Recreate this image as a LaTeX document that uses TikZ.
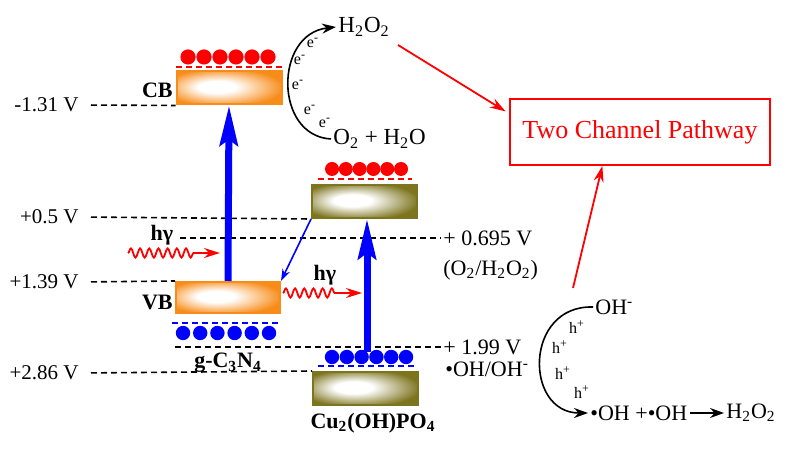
\documentclass[tikz,border=0pt]{standalone}
\usepackage{fontspec}
\setmainfont{Liberation Serif}
\usetikzlibrary{arrows.meta,decorations.pathmorphing,calc}

\definecolor{bandorange}{RGB}{247,140,25}
\definecolor{bandolive}{RGB}{125,116,30}

\pgfdeclareradialshading{gshade}{\pgfpoint{-7bp}{2bp}}{%
  color(0bp)=(white); color(9bp)=(white); color(29bp)=(bandorange); color(50bp)=(bandorange)}
\pgfdeclareradialshading{cshade}{\pgfpoint{-7bp}{2bp}}{%
  color(0bp)=(white); color(9bp)=(white); color(29bp)=(bandolive); color(50bp)=(bandolive)}

\begin{document}
\begin{tikzpicture}[x=0.5pt,y=-0.5pt,
    lbl/.style={font=\fontsize{10.5}{12}\selectfont, inner sep=1pt},
    boldlbl/.style={font=\fontsize{11}{13}\selectfont\bfseries, inner sep=1pt},
    tiny/.style={font=\fontsize{8}{9}\selectfont, inner sep=0pt},
    band/.style={minimum width=52.5pt, minimum height=16.5pt, inner sep=0pt, line width=1pt},
    gband/.style={band, draw=bandorange, shading=gshade},
    cband/.style={band, draw=bandolive, shading=cshade},
    level/.style={line width=0.8pt, dash pattern=on 3pt off 2pt},
    pump/.style={blue, line width=3.5pt, -{Stealth[length=20pt, width=9pt, inset=3pt]}},
    wave/.style={red, line width=0.9pt, decorate,
      decoration={snake, amplitude=2.3pt, segment length=4.6pt, post length=12pt},
      -{Stealth[length=8pt, width=5pt]}},
    redarrow/.style={red, line width=0.9pt, -{Stealth[length=8pt, width=5pt]}},
    flow/.style={black, line width=0.8pt, -{Stealth[length=7pt, width=5pt]}}]

  \useasboundingbox (0,0) rectangle (790,453);

  % --- band boxes ---
  \node[gband] (cbG) at (229,88) {};
  \node[gband, minimum width=52pt, minimum height=15.5pt] (vbG) at (228,297.5) {};
  \node[cband] (cbC) at (364.5,201.5) {};
  \node[cband] (vbC) at (365.5,388.5) {};

  \node[boldlbl, anchor=east] (cbl) at (175,90) {CB};
  \node[boldlbl, anchor=east] (vbl) at (175,302) {VB};
  \node[boldlbl] (gcn) at (228,363) {g-C\textsubscript{3}N\textsubscript{4}};
  \node[boldlbl] (cuop) at (373,423) {Cu\textsubscript{2}(OH)PO\textsubscript{4}};

  % --- electrons and holes ---
  \draw[red, level, line width=0.7pt] (176,67) -- (282,67);
  \foreach \i in {0,...,5}
    \fill[red] (188+16*\i,57) circle (3.8pt);
  \draw[red, level, line width=0.7pt] (318,179) -- (412,179);
  \foreach \i in {0,...,5}
    \fill[red] (332+13.8*\i,169) circle (3.5pt);
  \draw[blue, level, line width=0.7pt] (172,323) -- (280,323);
  \foreach \i in {0,...,5}
    \fill[blue] (183+17.2*\i,333) circle (3.6pt);
  \draw[blue, level, line width=0.7pt] (318,366) -- (415,366);
  \foreach \i in {0,...,5}
    \fill[blue] (332+14.8*\i,357) circle (3.6pt);

  % --- potential levels ---
  \node[lbl, anchor=east] (lv131) at (81,105) {-1.31 V};
  \node[lbl, anchor=east] (lv05) at (81,217) {+0.5 V};
  \node[lbl, anchor=east] (lv139) at (81,282) {+1.39 V};
  \node[lbl, anchor=east] (lv286) at (81,373) {+2.86 V};
  \node[lbl, anchor=west, font=\fontsize{11}{13}\selectfont] (lv0695) at (441,238) {+ 0.695 V};
  \node[lbl, anchor=west, font=\fontsize{11}{13}\selectfont] (lvO2) at (441,270) {(O\textsubscript{2}/H\textsubscript{2}O\textsubscript{2})};
  \node[lbl, anchor=west, font=\fontsize{11}{13}\selectfont] (lv199) at (441,347) {+ 1.99 V};
  \node[lbl, anchor=west, font=\fontsize{11}{13}\selectfont] (lvOH) at (443,369) {\textbullet OH/OH\textsuperscript{-}};
  \coordinate (g0695) at (180,238);
  \coordinate (g199) at (175,347);

  \draw[level, shorten <=5pt] (lv131.east) -- (cbG.south west);
  \draw[level, shorten <=5pt] (lv05.east) -- (cbC.south west);
  \draw[level, shorten <=5pt] (lv139.east) -- (vbG.north west);
  \draw[level, shorten <=5pt] (lv286.east) -- (vbC.north west);
  \draw[level] (g0695) -- (lv0695.west);
  \draw[level] (g199) -- (lv199.west);

  % --- excitation and transfer ---
  \coordinate (c1) at (367,352);
  \draw[pump] (vbG.north) -- (cbG.south);
  \draw[pump] (c1) -- (c1 |- cbC.south);
  \draw[blue, line width=0.8pt, -{Stealth[length=6pt, width=4pt]}] (cbC.south west) -- (vbG.north east);

  \node[boldlbl] (hv1) at (162,235) {hγ};
  \node[boldlbl] (hv2) at (325,275) {hγ};
  \coordinate (w1s) at (128,253);
  \coordinate (w1e) at (220,253);
  \coordinate (w2s) at (283,293);
  \coordinate (w2e) at (362,293);
  \draw[wave] (w1s) -- (w1e);
  \draw[wave] (w2s) -- (w2e);

  % --- reduction side ---
  \node[lbl, anchor=west, font=\fontsize{11.5}{13}\selectfont] (h2o2t) at (336,27) {H\textsubscript{2}O\textsubscript{2}};
  \node[lbl, anchor=west, font=\fontsize{11.5}{13}\selectfont] (o2h2o) at (331,139) {O\textsubscript{2} + H\textsubscript{2}O};
  \draw[flow] (o2h2o.west) .. controls (274,136) and (274,34) .. (h2o2t.west);
  \foreach \p in {(313,43),(300,60),(298,85),(310,110),(325,123)}
    \node[tiny] at \p {e\textsuperscript{-}};

  % --- oxidation side ---
  \node[lbl, anchor=west, font=\fontsize{11}{13}\selectfont] (ohm) at (593,307) {OH\textsuperscript{-}};
  \node[lbl, anchor=west, font=\fontsize{11}{13}\selectfont] (ohb) at (588,413) {\textbullet OH +\textbullet OH};
  \node[lbl, anchor=west, font=\fontsize{11}{13}\selectfont] (h2o2b) at (724,413) {H\textsubscript{2}O\textsubscript{2}};
  \draw[flow] (ohm.west) .. controls (524,305) and (524,413) .. (ohb.west);
  \draw[flow, line width=0.7pt] (ohb.east) -- (h2o2b.west);
  \foreach \p in {(577,327),(560,347),(563,373),(582,392)}
    \node[tiny] at \p {h\textsuperscript{+}};

  % --- pathway box ---
  \node[draw=red, line width=0.9pt, text=red, minimum width=130pt, minimum height=33pt,
    font=\fontsize{13}{15}\selectfont] (tcp) at (640,132) {Two Channel Pathway};
  \coordinate (a1s) at (398,45);
  \coordinate (a2s) at (573,288);
  \draw[redarrow, shorten >=2pt] (a1s) -- (tcp.172);
  \draw[redarrow] (a2s) -- (tcp.222);

\end{tikzpicture}
\end{document}
